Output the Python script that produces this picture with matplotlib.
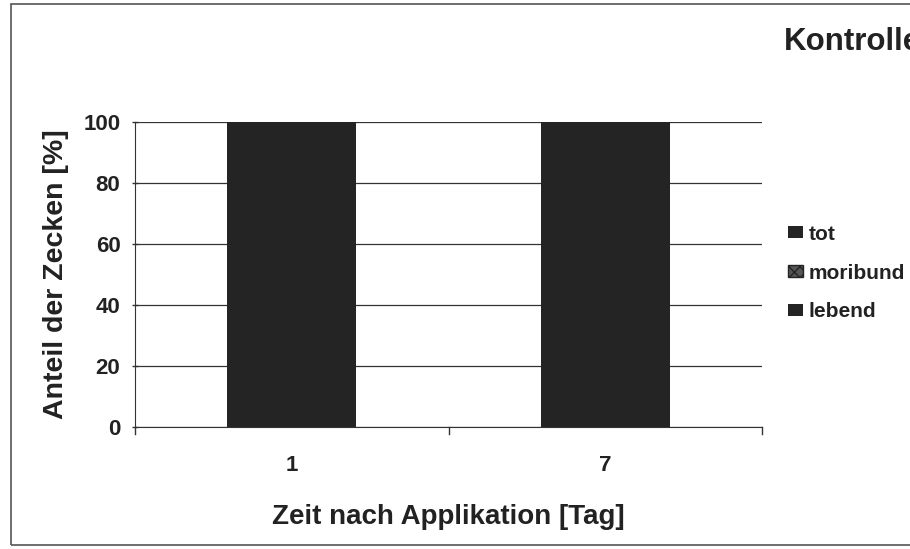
import matplotlib
matplotlib.use("Agg")
import matplotlib.pyplot as plt
import numpy as np
from matplotlib.patches import Rectangle

categories = ["1", "7"]
lebend = [100, 100]
moribund = [0, 0]
tot = [0, 0]
yticks = [0, 20, 40, 60, 80, 100]

plt.rcParams['font.family'] = ['Liberation Sans', 'DejaVu Sans']

fig = plt.figure(figsize=(9.10, 5.49), dpi=100)
ax = fig.add_axes([135/910, 1-427/549, (762-135)/910, (427-122)/549])

x = np.arange(len(categories))
w = 0.41
dark = "#242424"
ax.bar(x, lebend, w, color=dark, label="lebend", zorder=3)
ax.bar(x, moribund, w, bottom=lebend, color="#555555", hatch="xxx",
       edgecolor=dark, label="moribund", zorder=3)
bot2 = [a + b for a, b in zip(lebend, moribund)]
ax.bar(x, tot, w, bottom=bot2, color=dark, label="tot", zorder=3)

ax.set_xlim(-0.5, len(categories) - 0.5)
ax.set_ylim(0, 100)
ax.set_yticks(yticks)
ax.set_yticklabels([str(v) for v in yticks], fontsize=16, fontweight='bold', color="#222222")
ax.set_xticks(x)
ax.set_xticklabels(categories, fontsize=16, fontweight='bold', color="#222222")
ax.tick_params(axis='x', length=0, pad=20)
ax.tick_params(axis='y', length=5, direction='inout', width=1, color="#333333", pad=8)
# category boundary ticks
for b in [-0.5, 0.5, 1.5]:
    ax.plot([b, b], [0, -2.2], color="#333333", lw=1, clip_on=False, zorder=4)
ax.grid(axis='y', color="#333333", lw=0.9, zorder=0)
for s in ['top', 'right']:
    ax.spines[s].set_visible(False)
ax.spines['left'].set_color("#333333")
ax.spines['bottom'].set_color("#333333")

ax.set_ylabel("Anteil der Zecken [%]", fontsize=20.5, fontweight='bold', color="#222222", labelpad=10)
ax.set_xlabel("Zeit nach Applikation [Tag]", fontsize=20, fontweight='bold', color="#222222", labelpad=20)

fig.text(784/910, 1-42/549, "Kontrolle", fontsize=22.5, fontweight='bold', color="#222222",
         ha='left', va='center')

handles, labels = ax.get_legend_handles_labels()
leg = fig.legend(handles[::-1], labels[::-1], loc='center left',
                 bbox_to_anchor=(788/910, 1-273/549), frameon=False,
                 prop={'size': 15, 'weight': 'bold'}, handlelength=0.7, handleheight=0.5,
                 handletextpad=0.3, labelspacing=0.95, borderpad=0, borderaxespad=0)
for t in leg.get_texts():
    t.set_color("#222222")

fig.patches.append(Rectangle((11/910, 4/549), 1.0, (545-4)/549, transform=fig.transFigure,
                             fill=False, edgecolor="#555555", lw=1.2))

fig.savefig("out.png", dpi=100)
